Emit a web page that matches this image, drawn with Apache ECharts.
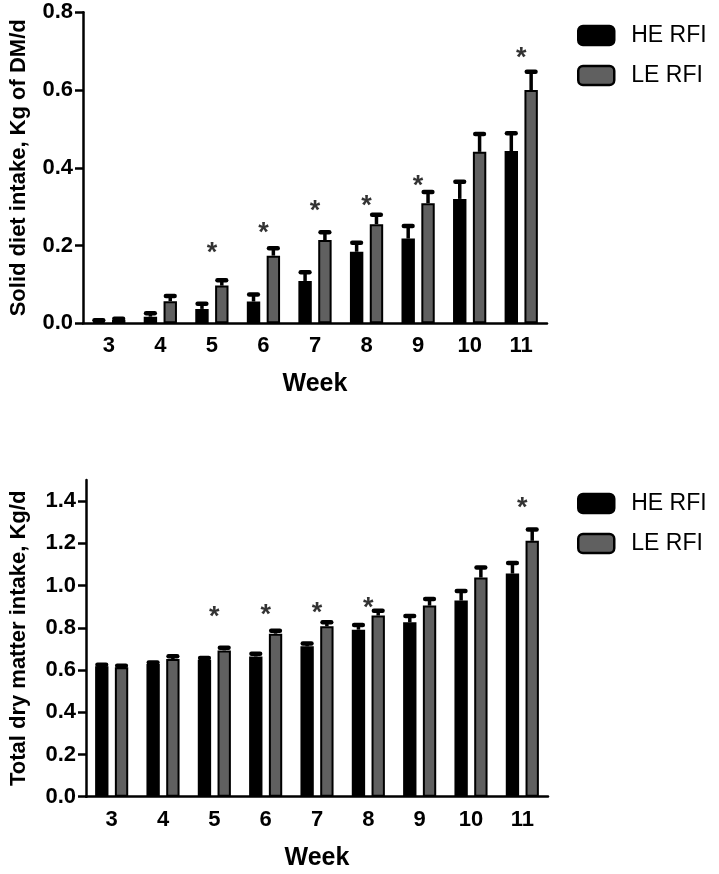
<!DOCTYPE html>
<html>
<head>
<meta charset="utf-8">
<script src="https://cdn.jsdelivr.net/npm/echarts@6/dist/echarts.min.js"></script>
<style>html,body{margin:0;padding:0;background:#fff}#c{width:719px;height:874px}</style>
</head>
<body>
<div id="c"></div>
<script>
var weeks = ['3','4','5','6','7','8','9','10','11'];
var seriesNames = ['HE RFI','LE RFI'];

// Top panel: Solid diet intake, Kg of DM/d
var solidHE = [0.005, 0.017, 0.037, 0.056, 0.109, 0.184, 0.218, 0.320, 0.443];
var solidHEsem = [0.003, 0.009, 0.013, 0.018, 0.022, 0.023, 0.032, 0.044, 0.046];
var solidLE = [0.009, 0.057, 0.097, 0.174, 0.214, 0.255, 0.309, 0.441, 0.600];
var solidLEsem = [0.003, 0.013, 0.014, 0.019, 0.020, 0.024, 0.029, 0.046, 0.047];
var solidStars = [null, null, 0.194, 0.246, 0.304, 0.317, 0.366, null, 0.696];
var solidTicks = [0, 0.2, 0.4, 0.6, 0.8];

// Bottom panel: Total dry matter intake, Kg/d
var totalHE = [0.618, 0.628, 0.649, 0.664, 0.712, 0.791, 0.826, 0.929, 1.057];
var totalHEsem = [0.007, 0.008, 0.008, 0.013, 0.014, 0.022, 0.030, 0.045, 0.050];
var totalLE = [0.613, 0.652, 0.693, 0.772, 0.807, 0.858, 0.905, 1.038, 1.212];
var totalLEsem = [0.007, 0.013, 0.012, 0.014, 0.019, 0.023, 0.031, 0.048, 0.053];
var totalStars = [null, null, 0.878, 0.886, 0.894, 0.918, null, null, 1.395];
var totalTicks = [0, 0.2, 0.4, 0.6, 0.8, 1.0, 1.2, 1.4];

var FONT = '"Liberation Sans", Arial, sans-serif';
var BAR_W = 0.26, BAR_GAP = 0.48;
var GRAY = '#606060';

function errData(means, sems){
  return means.map(function(m,i){ return [i, m, +(m+sems[i]).toFixed(4)]; });
}
function starData(arr){
  var out=[]; arr.forEach(function(v,i){ if(v!==null) out.push([i,v]); }); return out;
}
function errRender(groupIdx){
  return function(params, api){
    var cat = api.value(0), mean = api.value(1), hi = api.value(2);
    var base = api.coord([cat, mean]);
    var top = api.coord([cat, hi]);
    var band = api.size([1,0])[0];
    var bw = band*BAR_W, gap = bw*BAR_GAP;
    var off = (bw+gap)/2 * (groupIdx===0 ? -1 : 1);
    var x = base[0]+off;
    var capW = bw*0.65;
    return {type:'group', children:[
      {type:'line', shape:{x1:x,y1:base[1],x2:x,y2:top[1]}, style:{stroke:'#000', lineWidth:3.5}},
      {type:'line', shape:{x1:x-capW/2,y1:top[1],x2:x+capW/2,y2:top[1]}, style:{stroke:'#000', lineWidth:4.5, lineCap:'round'}}
    ]};
  };
}

function xAxisCfg(gi, gap){
  return {
    type:'category', gridIndex:gi, data:weeks, boundaryGap:true,
    name:'Week', nameLocation:'middle', nameGap:gap,
    nameTextStyle:{fontFamily:FONT, fontWeight:'bold', fontSize:25, color:'#000'},
    axisLine:{lineStyle:{color:'#000', width:2.5}},
    axisTick:{alignWithLabel:true, length:8, lineStyle:{color:'#000', width:2.5}},
    axisLabel:{margin:12, fontFamily:FONT, fontWeight:'bold', fontSize:22, color:'#000'},
    splitLine:{show:false}
  };
}
function yAxisCfg(gi, name, max, ticks, gap){
  return {
    type:'value', gridIndex:gi, min:0, max:max,
    name:name, nameLocation:'middle', nameGap:gap, nameRotate:90,
    nameTextStyle:{fontFamily:FONT, fontWeight:'bold', fontSize:22, color:'#000'},
    axisLine:{show:true, lineStyle:{color:'#000', width:2.5}},
    axisTick:{show:true, length:8, customValues:ticks, lineStyle:{color:'#000', width:2.5}},
    axisLabel:{margin:10, customValues:ticks, fontFamily:FONT, fontWeight:'bold', fontSize:22, color:'#000',
      formatter:function(v){ return Number(v).toFixed(1); }},
    splitLine:{show:false}
  };
}
function barSeries(name, gi, data, color){
  return {
    type:'bar', name:name, xAxisIndex:gi, yAxisIndex:gi, data:data,
    barWidth:(BAR_W*100)+'%', barGap:(BAR_GAP*100)+'%',
    itemStyle:{color:color, borderColor:'#000', borderWidth:2},
    emphasis:{disabled:true}, z:2
  };
}
function errSeries(gi, groupIdx, data){
  return {
    type:'custom', xAxisIndex:gi, yAxisIndex:gi, data:data,
    renderItem:errRender(groupIdx), encode:{x:0, y:[1,2]}, z:3, silent:true
  };
}
function starSeries(gi, data){
  return {
    type:'scatter', xAxisIndex:gi, yAxisIndex:gi, data:data, symbolSize:1,
    itemStyle:{color:'rgba(0,0,0,0)'}, silent:true, z:4,
    label:{show:true, position:'inside', formatter:'*', offset:[0,6],
      fontFamily:FONT, fontWeight:'bold', fontSize:27, color:'#000'}
  };
}
function legendCfg(top){
  return {
    orient:'vertical', left:577, top:top, padding:0, data:seriesNames,
    icon:'roundRect', itemWidth:36, itemHeight:19, itemGap:17,
    itemStyle:{borderColor:'#000', borderWidth:2.5},
    textStyle:{fontFamily:FONT, fontSize:23, color:'#000', lineHeight:19, padding:[0,0,0,12]},
    selectedMode:false
  };
}

var chart = echarts.init(document.getElementById('c'), null, {renderer:'canvas'});
chart.setOption({
  animation:false,
  backgroundColor:'#fff',
  legend:[legendCfg(24), legendCfg(492)],
  grid:[
    {left:80, top:12.3, width:467, height:311},
    {left:79, top:480, width:469, height:316.7}
  ],
  xAxis:[xAxisCfg(0, 48), xAxisCfg(1, 49)],
  yAxis:[
    yAxisCfg(0, 'Solid diet intake, Kg of DM/d', 0.8, solidTicks, 53),
    yAxisCfg(1, 'Total dry matter intake, Kg/d', 1.5, totalTicks, 56)
  ],
  series:[
    barSeries(seriesNames[0], 0, solidHE, '#000'),
    barSeries(seriesNames[1], 0, solidLE, GRAY),
    errSeries(0, 0, errData(solidHE, solidHEsem)),
    errSeries(0, 1, errData(solidLE, solidLEsem)),
    starSeries(0, starData(solidStars)),
    barSeries(seriesNames[0], 1, totalHE, '#000'),
    barSeries(seriesNames[1], 1, totalLE, GRAY),
    errSeries(1, 0, errData(totalHE, totalHEsem)),
    errSeries(1, 1, errData(totalLE, totalLEsem)),
    starSeries(1, starData(totalStars))
  ]
});
</script>
</body>
</html>
